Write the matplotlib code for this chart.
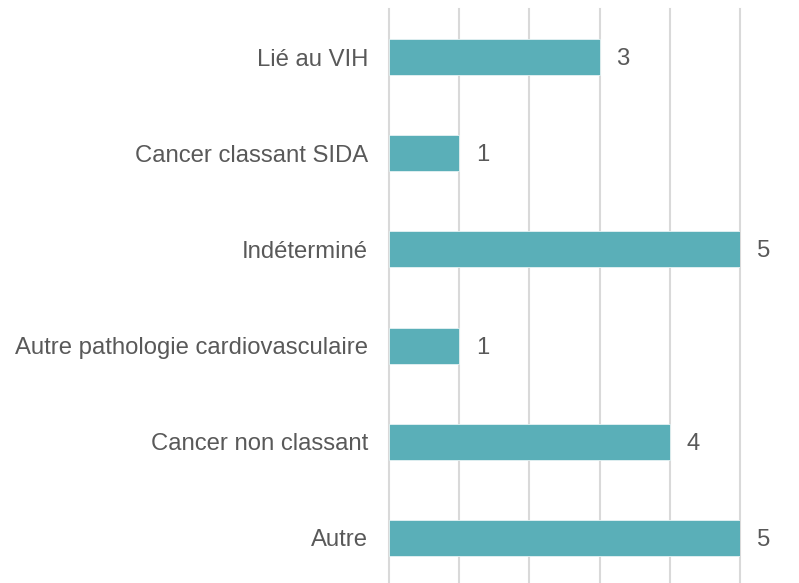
import matplotlib
matplotlib.use("Agg")
import matplotlib.pyplot as plt

categories = ["Lié au VIH", "Cancer classant SIDA", "Indéterminé",
              "Autre pathologie cardiovasculaire", "Cancer non classant", "Autre"]
values = [3, 1, 5, 1, 4, 5]

BAR = "#5AAFB8"
TXT = "#595959"
GRID = "#D9D9D9"

plt.rcParams.update({"font.family": ["Liberation Sans", "DejaVu Sans"], "font.size": 17.2})

fig = plt.figure(figsize=(7.99, 5.83), dpi=100)
ax = fig.add_axes([0.4869, -0.0051, 0.4393, 0.9898])

y = list(range(len(categories)))
bars = ax.barh(y, values, height=0.375, color=BAR, edgecolor="#E6F2F3", linewidth=0.6, zorder=3)
for b, v in zip(bars, values):
    ax.annotate(str(v), (b.get_width(), b.get_y() + b.get_height() / 2),
                xytext=(12, -1.5), textcoords="offset points",
                ha="left", va="center", color=TXT, fontsize=17.2)

ax.set_xlim(0, 5)
ax.set_ylim(len(categories) - 0.5, -0.5)
ax.set_xticks(range(6))
ax.set_xticklabels([])
ax.set_yticks(y)
ax.set_yticklabels(categories, color=TXT)
ax.tick_params(axis="both", length=0)
ax.tick_params(axis="y", pad=15)
ax.grid(True, axis="x", color=GRID, linewidth=1.5, zorder=0)
for gl in ax.get_xgridlines():
    gl.set_clip_on(False)
for s in ax.spines.values():
    s.set_visible(False)

fig.savefig("out.png", dpi=100)
